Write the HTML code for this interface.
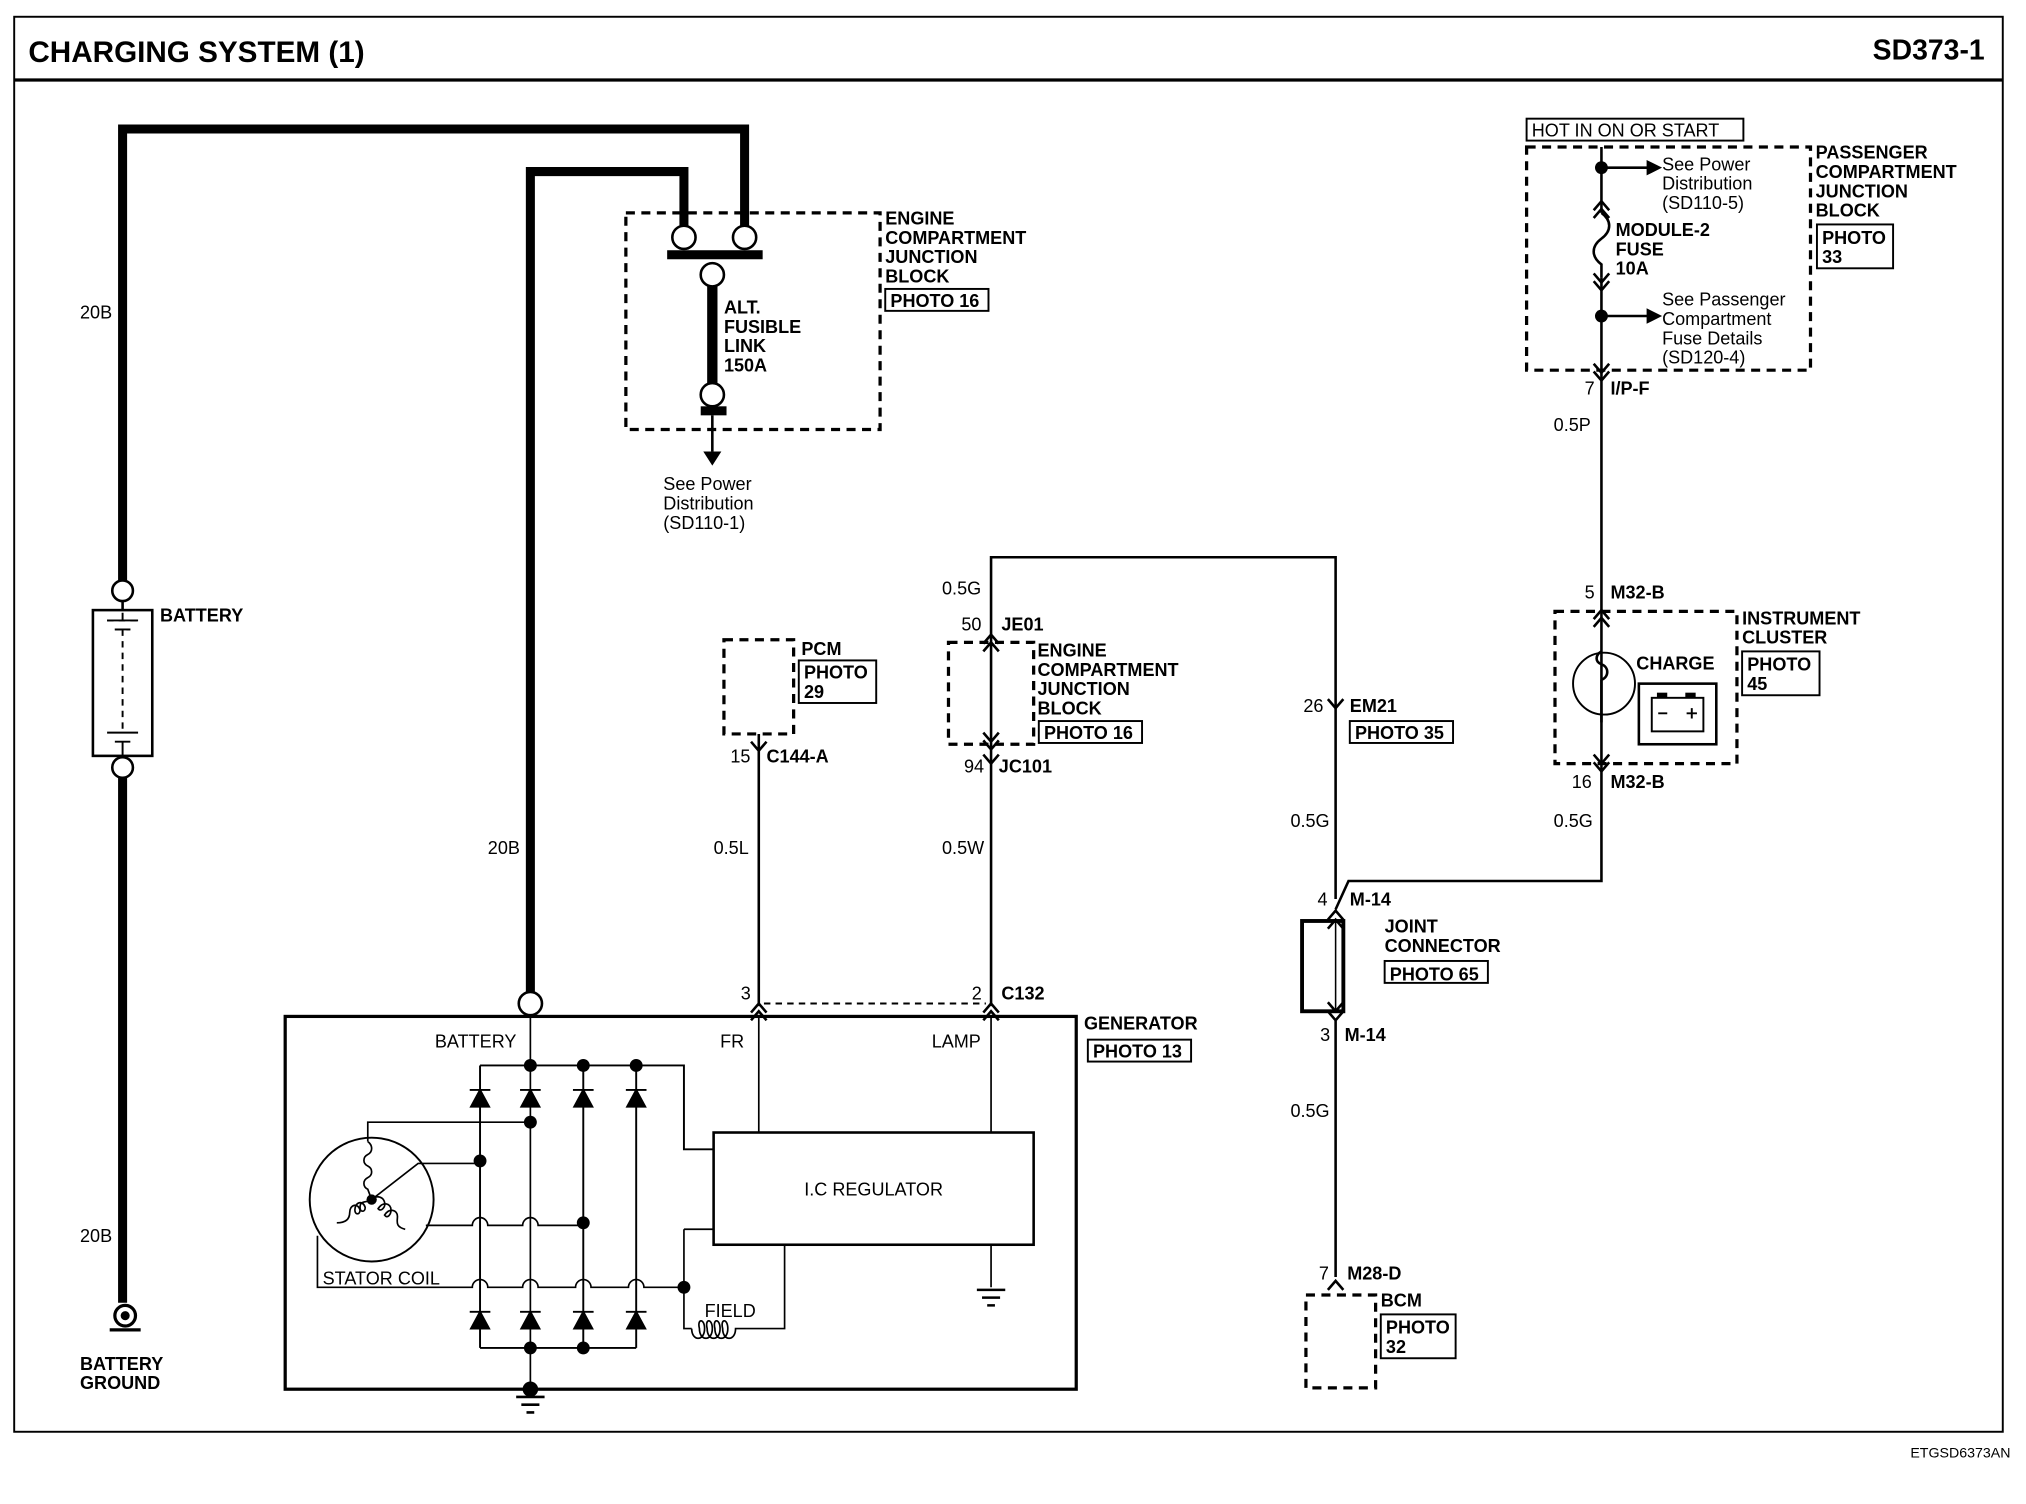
<!DOCTYPE html>
<html><head><meta charset="utf-8"><style>
html,body{margin:0;padding:0;background:#fff;}
svg{display:block;}
text{font-family:"Liberation Sans",Arial,sans-serif;fill:#000;}
.b{font-weight:bold;font-size:14px;}
.n{font-size:14px;}
.w{stroke:#000;stroke-width:2;fill:none;}
.t{stroke:#000;stroke-width:7;fill:none;}
.d{stroke:#000;stroke-width:2.5;fill:none;stroke-dasharray:7,5;}
</style></head><body>
<svg width="2026" height="1504" viewBox="0 0 1570 1166" preserveAspectRatio="none" xmlns="http://www.w3.org/2000/svg">
<rect x="11" y="13" width="1541" height="1097" fill="none" stroke="#000" stroke-width="1.5"/>
<line x1="11" y1="62" x2="1552" y2="62" stroke="#000" stroke-width="2.5"/>
<text x="22" y="48" style="font-weight:bold;font-size:23px">CHARGING SYSTEM (1)</text>
<text x="1538" y="46" text-anchor="end" style="font-weight:bold;font-size:22px">SD373-1</text>
<text x="1558" y="1130" text-anchor="end" style="font-size:11px">ETGSD6373AN</text>

<!-- thick wires -->
<path class="t" d="M95,450 V100 H577 V176"/>
<path class="t" d="M411,769 V133 H530 V176"/>
<path class="t" d="M95,603 V1010"/>
<text class="n" x="62" y="247">20B</text>
<text class="n" x="62" y="963">20B</text>
<text class="n" x="378" y="662">20B</text>

<!-- battery -->
<circle cx="95" cy="458" r="8" fill="#fff" stroke="#000" stroke-width="2"/>
<circle cx="95" cy="595" r="8" fill="#fff" stroke="#000" stroke-width="2"/>
<rect x="72" y="473" width="46" height="113" fill="#fff" stroke="#000" stroke-width="2"/>
<path class="w" d="M95,466 V473 M95,586 V587" />
<path stroke="#000" stroke-width="1.5" fill="none" d="M83,481 H107 M89,488 H101 M95,488 V568" stroke-dasharray="5,4"/>
<path stroke="#000" stroke-width="1.5" d="M83,481 H107 M89,488 H101 M83,568 H107 M89,575 H101 M95,475 V481 M95,575 V586"/>
<text class="b" x="124" y="482">BATTERY</text>
<circle cx="97" cy="1020" r="8" fill="#fff" stroke="#000" stroke-width="2.5"/>
<circle cx="97" cy="1020" r="3.5" fill="#000"/>
<path stroke="#000" stroke-width="2.5" d="M85,1031 H109"/>
<text class="b" x="62" y="1062">BATTERY</text>
<text class="b" x="62" y="1077">GROUND</text>

<!-- engine compartment junction block -->
<rect x="485" y="165" width="197" height="168" class="d"/>
<rect x="517" y="194" width="74" height="7" fill="#000"/>
<circle cx="530" cy="184" r="9" fill="#fff" stroke="#000" stroke-width="2"/>
<circle cx="577" cy="184" r="9" fill="#fff" stroke="#000" stroke-width="2"/>
<circle cx="552" cy="213" r="9" fill="#fff" stroke="#000" stroke-width="2"/>
<rect x="548" y="222" width="8" height="76" fill="#000"/>
<circle cx="552" cy="306" r="9" fill="#fff" stroke="#000" stroke-width="2"/>
<rect x="543" y="315" width="20" height="7" fill="#000"/>
<path class="w" d="M552,322 V350"/>
<path d="M545,350 H559 L552,361 Z" fill="#000"/>
<text class="b" x="561" y="243">ALT.</text>
<text class="b" x="561" y="258">FUSIBLE</text>
<text class="b" x="561" y="273">LINK</text>
<text class="b" x="561" y="288">150A</text>
<text class="b" x="686" y="174">ENGINE</text>
<text class="b" x="686" y="189">COMPARTMENT</text>
<text class="b" x="686" y="204">JUNCTION</text>
<text class="b" x="686" y="219">BLOCK</text>
<rect x="686" y="224" width="80" height="17" fill="none" stroke="#000" stroke-width="1.5"/>
<text class="b" x="690" y="238">PHOTO 16</text>
<text class="n" x="514" y="380">See Power</text>
<text class="n" x="514" y="395">Distribution</text>
<text class="n" x="514" y="410">(SD110-1)</text>

<!-- PCM -->
<rect x="561" y="496" width="54" height="73" class="d"/>
<text class="b" x="621" y="508">PCM</text>
<rect x="619" y="512" width="60" height="33" fill="none" stroke="#000" stroke-width="1.5"/>
<text class="b" x="623" y="526">PHOTO</text>
<text class="b" x="623" y="541">29</text>
<path class="w" d="M588,569 V780"/>
<path class="w" d="M582,575 L588,582 L594,575"/>
<text class="n" x="566" y="591">15</text>
<text class="b" x="594" y="591">C144-A</text>
<text class="n" x="553" y="662">0.5L</text>

<!-- engine comp JB 2 -->
<path class="w" d="M768,493 V432 H1035 V697"/>
<rect x="735" y="498" width="66" height="79" class="d"/>
<path class="w" d="M768,493 V580 M762,499 L768,492 L774,499 M762,505 L768,498 L774,505 M762,568 L768,575 L774,568 M762,574 L768,581 L774,574"/>
<text class="n" x="730" y="461">0.5G</text>
<text class="n" x="745" y="489">50</text>
<text class="b" x="776" y="489">JE01</text>
<text class="b" x="804" y="509">ENGINE</text>
<text class="b" x="804" y="524">COMPARTMENT</text>
<text class="b" x="804" y="539">JUNCTION</text>
<text class="b" x="804" y="554">BLOCK</text>
<rect x="805" y="559" width="80" height="17" fill="none" stroke="#000" stroke-width="1.5"/>
<text class="b" x="809" y="573">PHOTO 16</text>
<path class="w" d="M768,580 V780"/>
<path class="w" d="M762,585 L768,592 L774,585"/>
<text class="n" x="747" y="599">94</text>
<text class="b" x="774" y="599">JC101</text>
<text class="n" x="730" y="662">0.5W</text>

<!-- C132 connectors -->
<path class="w" d="M582,785 L588,778 L594,785 M762,785 L768,778 L774,785 M582,791 L588,784 L594,791 M762,791 L768,784 L774,791"/>
<path stroke="#000" stroke-width="1.5" stroke-dasharray="5,4" d="M592,778 H764"/>
<text class="n" x="574" y="775">3</text>
<text class="n" x="753" y="775">2</text>
<text class="b" x="776" y="775">C132</text>

<!-- generator -->
<rect x="221" y="788" width="613" height="289" fill="none" stroke="#000" stroke-width="2.5"/>
<text class="b" x="840" y="798">GENERATOR</text>
<rect x="843" y="806" width="80" height="17" fill="none" stroke="#000" stroke-width="1.5"/>
<text class="b" x="847" y="820">PHOTO 13</text>
<circle cx="411" cy="778" r="9" fill="#fff" stroke="#000" stroke-width="2"/>
<text class="n" x="337" y="812">BATTERY</text>
<text class="n" x="558" y="812">FR</text>
<text class="n" x="722" y="812">LAMP</text>
<path stroke="#000" stroke-width="1.3" fill="none" d="M411,787 V1077 M588,788 V878 M768,788 V878"/>
<path stroke="#000" stroke-width="1.5" fill="none" d="M372,826 H530 V891 H553 M372,826 V1045 M452,826 V1045 M493,826 V1045 M372,1045 H493"/>
<!-- diodes -->
<g fill="#000" stroke="#000" stroke-width="1.5">
<path d="M365,858 L379,858 L372,845 Z M364,845 H380"/>
<path d="M404,858 L418,858 L411,845 Z M403,845 H419"/>
<path d="M445,858 L459,858 L452,845 Z M444,845 H460"/>
<path d="M486,858 L500,858 L493,845 Z M485,845 H501"/>
<path d="M365,1030 L379,1030 L372,1017 Z M364,1017 H380"/>
<path d="M404,1030 L418,1030 L411,1017 Z M403,1017 H419"/>
<path d="M445,1030 L459,1030 L452,1017 Z M444,1017 H460"/>
<path d="M486,1030 L500,1030 L493,1017 Z M485,1017 H501"/>
</g>
<g fill="#000">
<circle cx="411" cy="826" r="5"/><circle cx="452" cy="826" r="5"/><circle cx="493" cy="826" r="5"/>
<circle cx="411" cy="870" r="5"/><circle cx="372" cy="900" r="5"/><circle cx="452" cy="948" r="5"/>
<circle cx="530" cy="998" r="5"/><circle cx="411" cy="1045" r="5"/><circle cx="452" cy="1045" r="5"/>
<circle cx="411" cy="1077" r="6"/><circle cx="288" cy="930" r="4"/>
</g>
<!-- stator -->
<circle cx="288" cy="930" r="48" fill="none" stroke="#000" stroke-width="1.5"/>
<path stroke="#000" stroke-width="1.3" fill="none" d="M288,930 L324,902 H372 M285,885 V870 H411
 M285,885 c4,3 4,8 0,10 c-4,2 -4,7 0,9 c4,2 4,7 0,9 c-4,2 -4,7 0,9 L288,930
 M288,930 c4,-4 9,-2 10,2 c1,4 -3,8 -5,5 c4,-6 10,-4 10,1 c0,4 -3,7 -5,4 c4,-6 10,-4 10,1 c0,4 -2,8 6,10
 M288,930 c-4,3 -9,0 -9,6 c0,4 4,4 4,0 c-2,-6 -8,-4 -8,2 c0,4 4,4 4,0 c-2,-6 -8,-4 -8,2 c0,6 -4,8 -10,8
 M246,958 V998 H366 a6,6 0 0 1 12,0 H405 a6,6 0 0 1 12,0 H446 a6,6 0 0 1 12,0 H487 a6,6 0 0 1 12,0 H530
 M330,950 H366 a6,6 0 0 1 12,0 H405 a6,6 0 0 1 12,0 H452
 M530,953 H553 M530,953 V1030 H536
 M536,1030 c0,10 10,10 10,0 c0,-8 -6,-8 -4,0 c0,10 10,10 10,0 c0,-8 -6,-8 -4,0 c0,10 10,10 10,0 c0,-8 -6,-8 -4,0 c0,10 10,10 10,0 c0,-8 -6,-8 -4,0 c0,10 10,10 10,0 L608,1030 V966
 M768,966 V998"/>
<path stroke="#000" stroke-width="2" d="M757,1000 H779 M761,1006 H775 M765,1012 H771"/>
<path stroke="#000" stroke-width="2" d="M400,1083 H422 M404,1089 H418 M408,1095 H414"/>
<text class="n" x="250" y="996">STATOR COIL</text>
<text class="n" x="546" y="1021">FIELD</text>
<rect x="553" y="878" width="248" height="87" fill="#fff" stroke="#000" stroke-width="2"/>
<text class="n" x="677" y="927" text-anchor="middle">I.C REGULATOR</text>

<!-- passenger JB -->
<rect x="1183" y="92" width="168" height="17" fill="none" stroke="#000" stroke-width="1.5"/>
<text class="n" x="1187" y="106">HOT IN ON OR START</text>
<rect x="1183" y="114" width="220" height="173" class="d"/>
<path class="w" d="M1241,114 V165 M1241,215 V295 M1241,130 H1278 M1241,245 H1278"/>
<path d="M1276,124 L1288,130 L1276,136 Z M1276,239 L1288,245 L1276,251 Z" fill="#000"/>
<circle cx="1241" cy="130" r="5" fill="#000"/><circle cx="1241" cy="245" r="5" fill="#000"/>
<path class="w" d="M1235,163 L1241,156 L1247,163 M1235,169 L1241,162 L1247,169 M1241,165 c8,6 8,14 0,20 c-8,6 -8,14 0,20 V215 M1235,212 L1241,219 L1247,212 M1235,218 L1241,225 L1247,218"/>
<path class="w" d="M1235,282 L1241,289 L1247,282 M1235,288 L1241,295 L1247,288"/>
<text class="n" x="1288" y="132">See Power</text>
<text class="n" x="1288" y="147">Distribution</text>
<text class="n" x="1288" y="162">(SD110-5)</text>
<text class="b" x="1252" y="183">MODULE-2</text>
<text class="b" x="1252" y="198">FUSE</text>
<text class="b" x="1252" y="213">10A</text>
<text class="n" x="1288" y="237">See Passenger</text>
<text class="n" x="1288" y="252">Compartment</text>
<text class="n" x="1288" y="267">Fuse Details</text>
<text class="n" x="1288" y="282">(SD120-4)</text>
<text class="b" x="1407" y="123">PASSENGER</text>
<text class="b" x="1407" y="138">COMPARTMENT</text>
<text class="b" x="1407" y="153">JUNCTION</text>
<text class="b" x="1407" y="168">BLOCK</text>
<rect x="1408" y="174" width="59" height="34" fill="none" stroke="#000" stroke-width="1.5"/>
<text class="b" x="1412" y="189">PHOTO</text>
<text class="b" x="1412" y="204">33</text>
<text class="n" x="1228" y="306">7</text>
<text class="b" x="1248" y="306">I/P-F</text>
<path class="w" d="M1241,295 V603 V683 H1045 L1035,705"/>
<text class="n" x="1204" y="334">0.5P</text>

<!-- instrument cluster -->
<text class="n" x="1228" y="464">5</text>
<text class="b" x="1248" y="464">M32-B</text>
<rect x="1205" y="474" width="141" height="118" class="d"/>
<path class="w" d="M1235,480 L1241,473 L1247,480 M1235,486 L1241,479 L1247,486 M1235,585 L1241,592 L1247,585 M1235,591 L1241,598 L1247,591"/>
<circle cx="1243" cy="530" r="24" fill="none" stroke="#000" stroke-width="1.5"/>
<path class="w" d="M1241,505 c-5,3 -5,8 0,10 c6,2 6,10 0,12 M1241,527 V560"/>
<text class="b" x="1268" y="519">CHARGE</text>
<rect x="1270" y="530" width="60" height="47" fill="none" stroke="#000" stroke-width="2"/>
<rect x="1280" y="541" width="40" height="26" fill="none" stroke="#000" stroke-width="1.5"/>
<rect x="1284" y="537" width="8" height="4" fill="#000"/><rect x="1306" y="537" width="8" height="4" fill="#000"/>
<path stroke="#000" stroke-width="1.5" d="M1285,553 H1292 M1307,553 H1315 M1311,549 V557"/>
<text class="b" x="1350" y="484">INSTRUMENT</text>
<text class="b" x="1350" y="499">CLUSTER</text>
<rect x="1350" y="505" width="60" height="34" fill="none" stroke="#000" stroke-width="1.5"/>
<text class="b" x="1354" y="520">PHOTO</text>
<text class="b" x="1354" y="535">45</text>
<text class="n" x="1218" y="611">16</text>
<text class="b" x="1248" y="611">M32-B</text>
<text class="n" x="1204" y="641">0.5G</text>

<!-- EM21 / joint -->
<path class="w" d="M1029,542 L1035,549 L1041,542"/>
<text class="n" x="1010" y="552">26</text>
<text class="b" x="1046" y="552">EM21</text>
<rect x="1046" y="559" width="80" height="17" fill="none" stroke="#000" stroke-width="1.5"/>
<text class="b" x="1050" y="573">PHOTO 35</text>
<text class="n" x="1000" y="641">0.5G</text>
<text class="n" x="1021" y="702">4</text>
<text class="b" x="1046" y="702">M-14</text>
<path class="w" d="M1029,713 L1035,706 L1041,713 M1029,720 L1035,713 L1041,720"/>
<rect x="1009" y="714" width="32" height="70" fill="none" stroke="#000" stroke-width="3"/>
<path stroke="#000" stroke-width="1.2" d="M1035,714 V784"/>
<path class="w" d="M1029,777 L1035,784 L1041,777 M1029,784 L1035,791 L1041,784 M1035,790 V990"/>
<text class="b" x="1073" y="723">JOINT</text>
<text class="b" x="1073" y="738">CONNECTOR</text>
<rect x="1073" y="745" width="80" height="17" fill="none" stroke="#000" stroke-width="1.5"/>
<text class="b" x="1077" y="760">PHOTO 65</text>
<text class="n" x="1023" y="807">3</text>
<text class="b" x="1042" y="807">M-14</text>
<text class="n" x="1000" y="866">0.5G</text>
<text class="n" x="1022" y="992">7</text>
<text class="b" x="1044" y="992">M28-D</text>
<path class="w" d="M1029,1000 L1035,993 L1041,1000"/>
<rect x="1012" y="1004" width="54" height="72" class="d"/>
<text class="b" x="1070" y="1013">BCM</text>
<rect x="1070" y="1019" width="58" height="34" fill="none" stroke="#000" stroke-width="1.5"/>
<text class="b" x="1074" y="1034">PHOTO</text>
<text class="b" x="1074" y="1049">32</text>
</svg>
</body></html>
